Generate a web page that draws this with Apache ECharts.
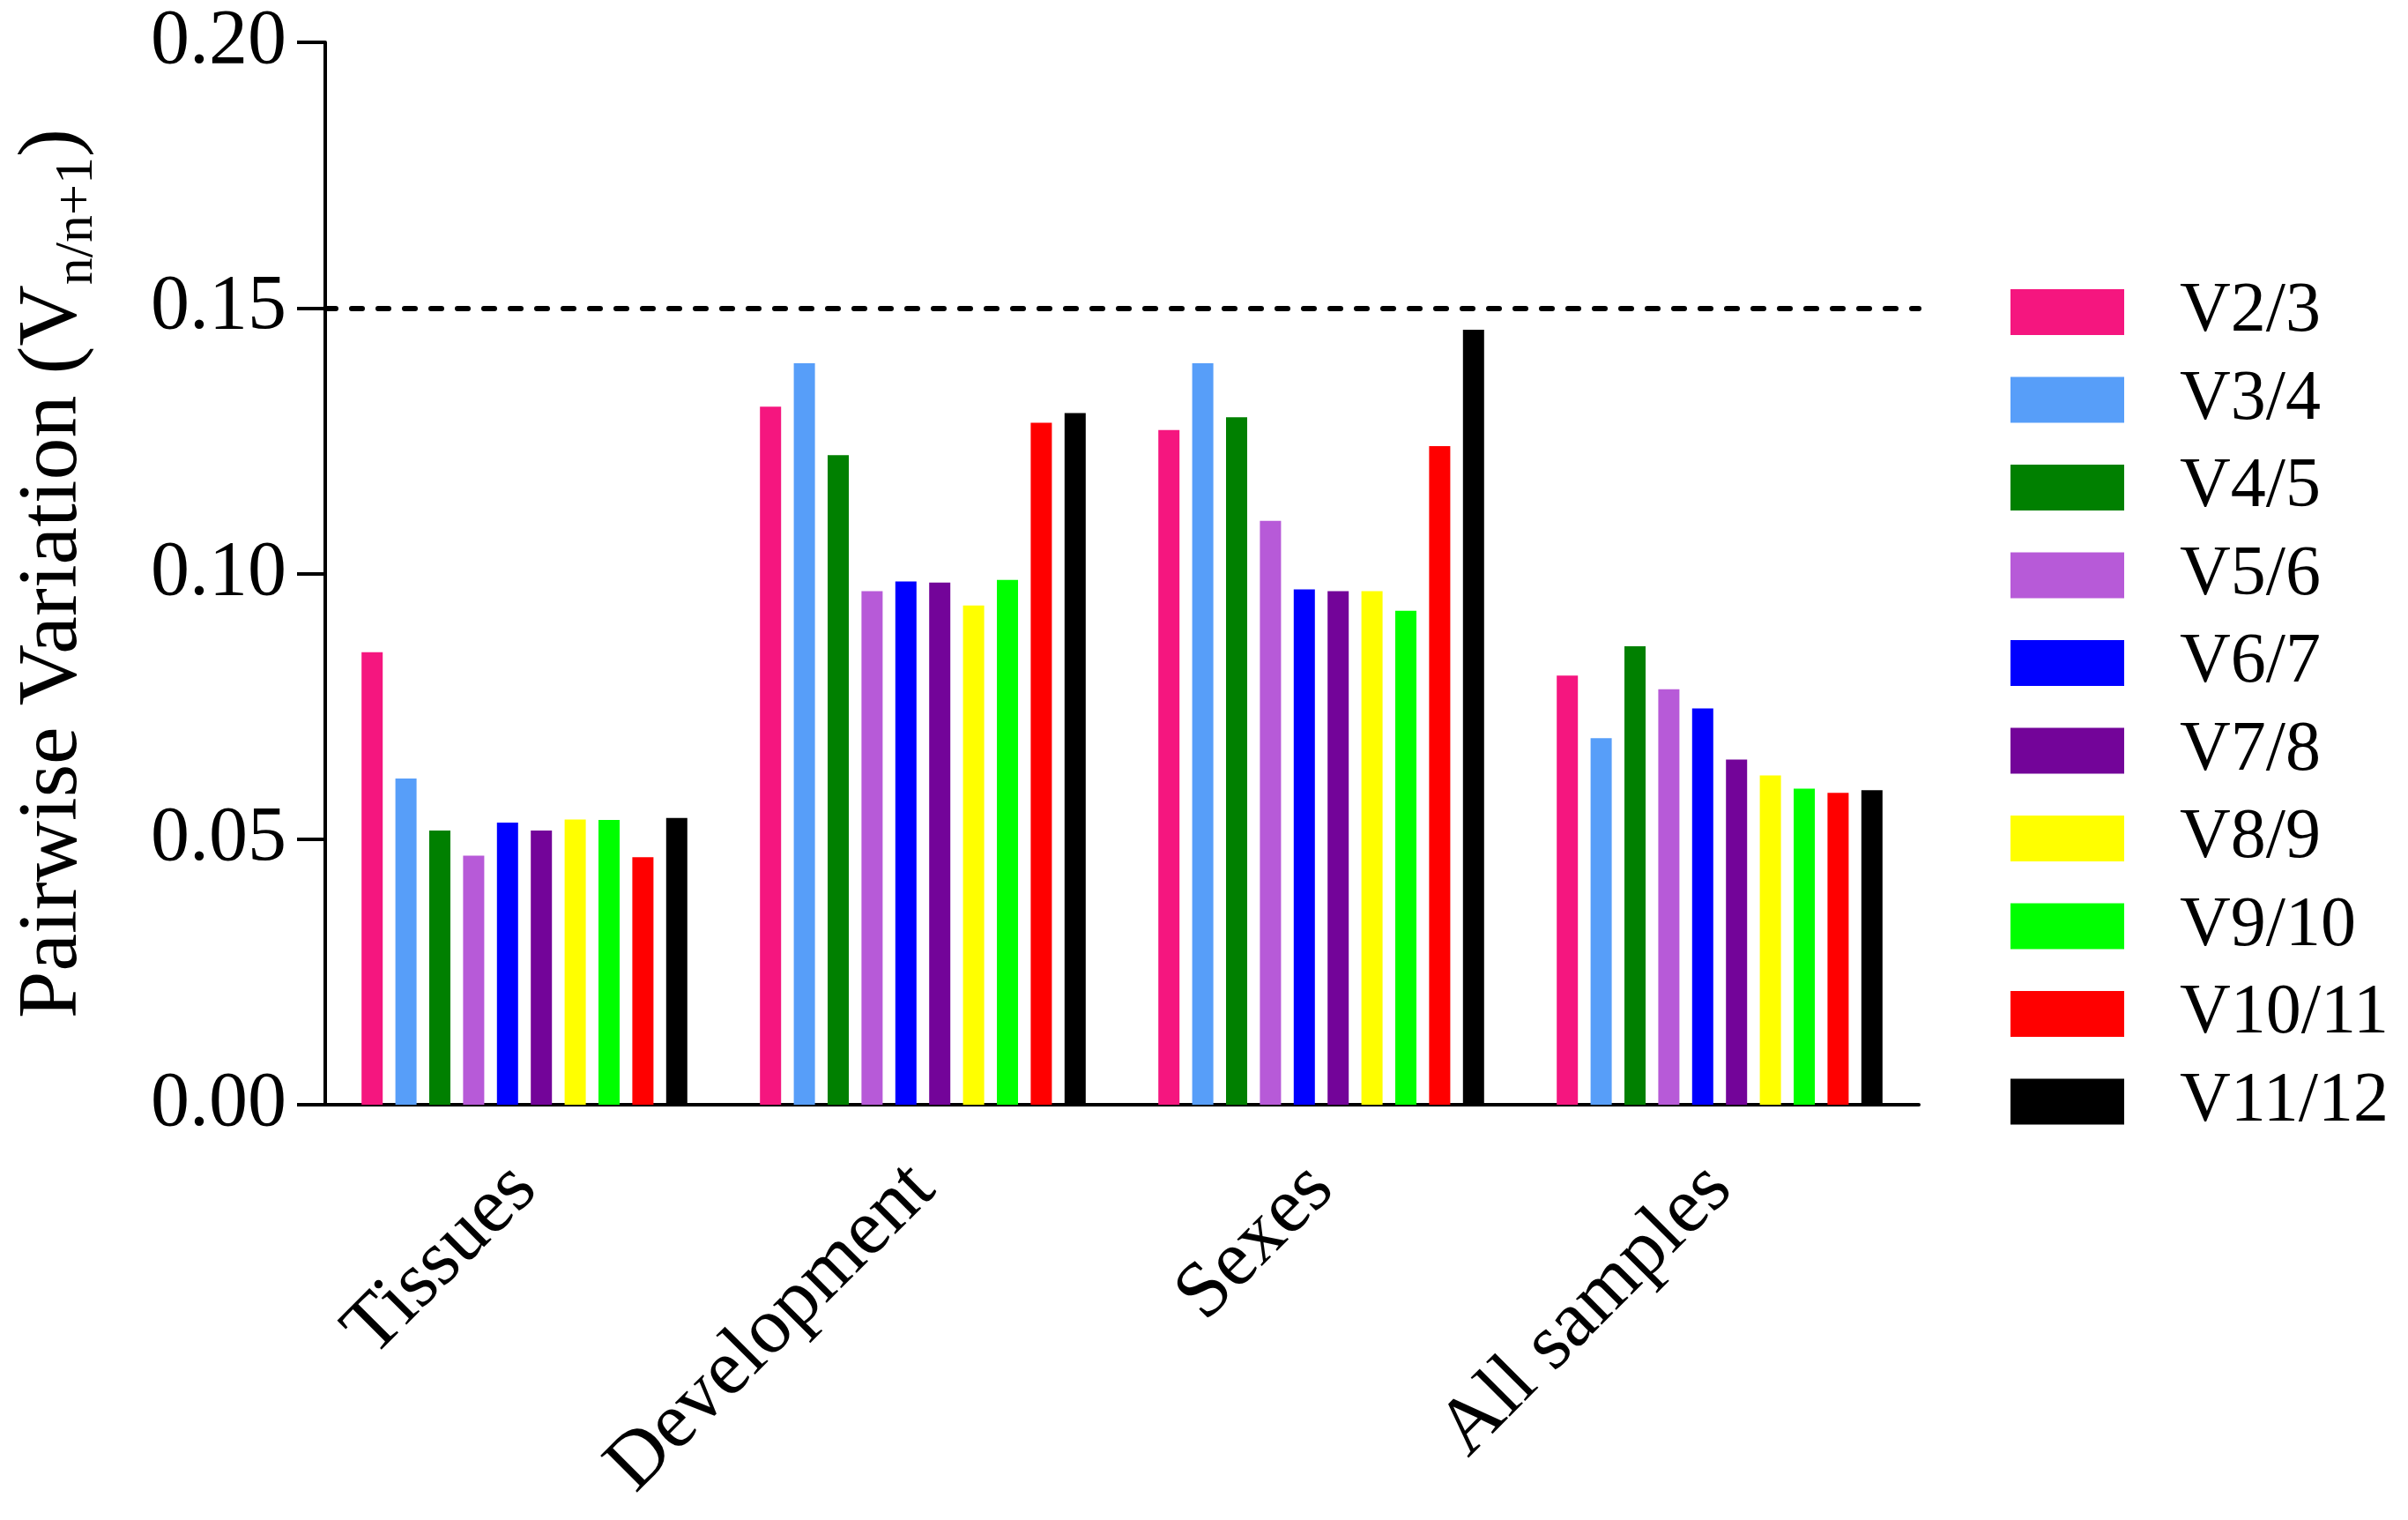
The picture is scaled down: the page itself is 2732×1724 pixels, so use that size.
<!DOCTYPE html>
<html>
<head>
<meta charset="utf-8">
<script src="https://cdn.jsdelivr.net/npm/echarts@6/dist/echarts.min.js"></script>
<style>
html,body{margin:0;padding:0;background:#fff;}
#chart{width:2732px;height:1724px;}
</style>
</head>
<body>
<div id="chart"></div>
<script>
const categories = ['Tissues', 'Development', 'Sexes', 'All samples'];
const seriesNames = ['V2/3','V3/4','V4/5','V5/6','V6/7','V7/8','V8/9','V9/10','V10/11','V11/12'];
const colors = ['#F5167F','#579EF9','#008000','#B75AD8','#0000FF','#730499','#FFFF00','#00FF00','#FF0000','#000000'];
// values per series, in category order [Tissues, Development, Sexes, All samples]
const v23   = [0.0852, 0.1314, 0.1270, 0.0808];
const v34   = [0.0614, 0.1396, 0.1396, 0.0690];
const v45   = [0.0516, 0.1223, 0.1294, 0.0863];
const v56   = [0.0469, 0.0967, 0.1099, 0.0782];
const v67   = [0.0531, 0.0985, 0.0970, 0.0746];
const v78   = [0.0516, 0.0983, 0.0967, 0.0650];
const v89   = [0.0537, 0.0940, 0.0967, 0.0620];
const v910  = [0.0536, 0.0988, 0.0930, 0.0595];
const v1011 = [0.0466, 0.1284, 0.1240, 0.0587];
const v1112 = [0.0540, 0.1302, 0.1459, 0.0592];
const yTicks = [0, 0.05, 0.10, 0.15, 0.20];
const threshold = 0.15;

const allValues = [v23, v34, v45, v56, v67, v78, v89, v910, v1011, v1112];
const FONT = '"Liberation Serif", "DejaVu Serif", serif';

const series = seriesNames.map((name, i) => {
  const s = {
    name: name,
    type: 'bar',
    data: allValues[i],
    barWidth: 24,
    barGap: '60%',
    itemStyle: { color: colors[i] },
    emphasis: { disabled: true }
  };
  if (i === 0) {
    s.markLine = {
      silent: true,
      symbol: ['none', 'none'],
      label: { show: false },
      lineStyle: { color: '#000', width: 6, type: [12, 18], cap: 'round' },
      data: [{ yAxis: threshold }]
    };
  }
  return s;
});

const chart = echarts.init(document.getElementById('chart'), null, { renderer: 'canvas' });
chart.setOption({
  animation: false,
  backgroundColor: '#fff',
  textStyle: { fontFamily: FONT },
  grid: { left: 369, right: 555, top: 48, bottom: 471, containLabel: false },
  legend: {
    orient: 'vertical',
    left: 2276,
    top: 309,
    icon: 'rect',
    itemWidth: 129,
    itemHeight: 52,
    itemGap: 19.5,
    data: seriesNames,
    textStyle: { fontFamily: FONT, fontSize: 80, color: '#000', padding: [0, 0, 0, 58] },
    selectedMode: false
  },
  xAxis: {
    type: 'category',
    data: categories,
    axisLine: { lineStyle: { color: '#000', width: 4 } },
    axisTick: { alignWithLabel: true, length: 45, lineStyle: { color: '#000', width: 4 } },
    axisLabel: { rotate: 45, fontSize: 90, fontFamily: FONT, color: '#000', margin: 82, interval: 0 },
    splitLine: { show: false }
  },
  yAxis: {
    type: 'value',
    min: yTicks[0],
    max: yTicks[yTicks.length - 1],
    interval: 0.05,
    axisLine: { show: true, lineStyle: { color: '#000', width: 4 } },
    axisTick: { show: true, length: 32, lineStyle: { color: '#000', width: 4 } },
    axisLabel: { fontSize: 88, fontFamily: FONT, color: '#000', margin: 44, formatter: v => v.toFixed(2) },
    splitLine: { show: false },
    name: '{a|Pairwise Variation (V}{b|n/n+1}{a|)}',
    nameLocation: 'middle',
    nameRotate: 90,
    nameGap: 250,
    nameTextStyle: {
      color: '#000',
      rich: {
        a: { fontSize: 96, fontFamily: FONT, color: '#000', lineHeight: 116, verticalAlign: 'middle' },
        b: { fontSize: 62, fontFamily: FONT, color: '#000', lineHeight: 62, verticalAlign: 'bottom' }
      }
    }
  },
  series: series
});
</script>
</body>
</html>
